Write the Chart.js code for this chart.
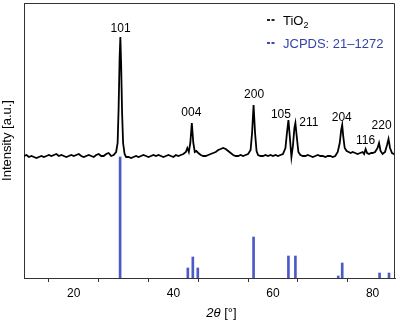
<!DOCTYPE html>
<html><head><meta charset="utf-8">
<script src="https://cdn.jsdelivr.net/npm/chart.js@4/dist/chart.umd.min.js"></script>
<style>html,body{margin:0;padding:0;background:#fff}#wrap{width:399px;height:324px}</style>
</head><body><div id="wrap"><canvas id="c" width="399" height="324"></canvas></div>
<script>
// XRD pattern (2θ in degrees, intensity in arbitrary units)
const xrdTheta = [10,10.5,11,11.5,12,12.5,13,13.5,14,14.5,15,15.5,16,16.5,17,17.5,18,18.5,19,19.5,20,20.5,21,21.5,22,22.5,23,23.5,24,24.5,25,25.5,26,26.5,27,27.5,28,28.5,28.8,29,29.2,29.35,29.5,29.7,29.9,30.2,30.5,31,31.5,32,32.5,33,33.5,34,34.5,35,35.5,36,36.5,37,37.5,38,38.5,39,39.5,40,40.5,41,41.5,42,42.5,42.8,43.1,43.4,43.7,44,44.3,44.6,45,45.5,46,46.5,47,47.5,48,48.5,49,49.5,50,50.5,51,51.5,52,52.5,53,53.5,54,54.5,55,55.5,55.8,56.1,56.4,56.7,57,57.5,58,58.5,59,59.5,60,60.5,61,61.5,62,62.5,62.8,63.1,63.4,63.7,64,64.3,64.5,64.8,65.1,65.5,66,66.5,67,67.5,68,68.5,69,69.5,70,70.5,71,71.5,72,72.5,73,73.4,73.7,73.9,74.1,74.4,74.8,75.2,75.6,76,76.5,77,77.5,78,78.3,78.6,78.9,79.3,79.7,80,80.5,81,81.3,81.6,82,82.5,82.9,83.2,83.5,83.9,84.3,84.5];
const xrdIntensity = [122,123,121,122,121,120,121,122,121,122,123,122,123,124,122,123,122,121,122,123,122,123,124,122,121,122,123,122,121,123,124,122,122,124,125,122,123,126,135,170,220,241,215,165,135,124,121,121,120,121,122,121,122,123,122,121,122,123,122,123,122,121,122,123,122,121,123,122,123,124,126,130,126,135,155,135,126,127,125,123,122,122,123,124,125,126,128,129,130,129,127,125,123,122,122,123,122,123,124,128,145,173,145,127,123,122,122,123,122,123,122,123,122,123,124,130,145,158,140,121,132,150,155,140,126,123,122,122,123,122,121,122,123,122,122,121,122,122,121,122,126,135,148,153,142,130,127,126,125,126,125,124,125,126,124,129,125,124,125,125,126,130,135,127,124,126,133,139,130,125,124,124];

// JCPDS 21-1272 reference lines
const refTheta = [29.3,42.9,43.9,44.9,56.1,63.1,64.5,73.1,73.9,81.4,83.3];
const refIntensity = [121,10,21,10,41,22,22,2,15,5,5];

// Peak (hkl) labels and their anchor in data units
const peakLabels = ['101','004','200','105','211','204','116','220'];
const peakLabelTheta = [29.4,43.6,56.2,61.6,67.2,73.8,78.6,81.8];
const peakLabelIntensity = [249,165,183,163,155,160,137,152];

// Axis ticks
const xTicks = [20,40,60,80];
const seriesNames = ['TiO', 'JCPDS: 21\u20131272'];

const FONT = "'Liberation Sans', Arial, Helvetica, sans-serif";
Chart.defaults.font.family = FONT;
Chart.defaults.font.size = 12;
Chart.defaults.color = '#000';

const overlay = {
  id: 'overlay',
  afterDraw(chart) {
    const {ctx, chartArea: a, scales: {x, y}} = chart;
    ctx.save();
    // top & right frame
    ctx.strokeStyle = '#333'; ctx.lineWidth = 1;
    ctx.beginPath();
    ctx.moveTo(a.left, a.top + 0.5); ctx.lineTo(a.right - 0.5, a.top + 0.5); ctx.lineTo(a.right - 0.5, a.bottom);
    ctx.stroke();
    // peak labels
    ctx.fillStyle = '#000';
    ctx.font = '12px ' + FONT;
    ctx.textAlign = 'center'; ctx.textBaseline = 'middle';
    peakLabels.forEach((t, i) => {
      ctx.fillText(t, x.getPixelForValue(peakLabelTheta[i]), y.getPixelForValue(peakLabelIntensity[i]));
    });
    // legend
    const lx = a.right - 128;
    const drawDash = (yy, col) => {
      ctx.strokeStyle = col; ctx.lineWidth = 2;
      ctx.beginPath();
      ctx.moveTo(lx, yy); ctx.lineTo(lx + 3, yy);
      ctx.moveTo(lx + 4.5, yy); ctx.lineTo(lx + 7.5, yy);
      ctx.stroke();
    };
    drawDash(20, '#222');
    drawDash(43, '#3b4ab0');
    ctx.textAlign = 'left'; ctx.textBaseline = 'middle';
    ctx.font = '13px ' + FONT;
    ctx.fillStyle = '#000';
    ctx.fillText(seriesNames[0], lx + 16, 21);
    const w0 = ctx.measureText(seriesNames[0]).width;
    ctx.font = '9px ' + FONT;
    ctx.fillText('2', lx + 16 + w0, 26);
    ctx.font = '13px ' + FONT;
    ctx.fillStyle = '#3443a8';
    ctx.fillText(seriesNames[1], lx + 16, 44);
    // x-axis title: italic "2θ" + " [°]"
    ctx.fillStyle = '#000';
    ctx.textBaseline = 'middle';
    const p1 = '2\u03b8', p2 = ' [\u00b0]';
    ctx.font = 'italic 13px ' + FONT;
    const w1 = ctx.measureText(p1).width;
    ctx.font = '13px ' + FONT;
    const w2 = ctx.measureText(p2).width;
    let sx = (a.left + a.right) / 2 + 12 - (w1 + w2) / 2;
    ctx.font = 'italic 13px ' + FONT;
    ctx.fillText(p1, sx, 313);
    ctx.font = '13px ' + FONT;
    ctx.fillText(p2, sx + w1, 313);
    ctx.restore();
  }
};

new Chart(document.getElementById('c'), {
  type: 'line',
  data: {
    datasets: [
      {
        type: 'bar',
        label: seriesNames[1],
        data: refTheta.map((t, i) => ({x: t, y: refIntensity[i]})),
        backgroundColor: '#4a5bc6',
        barThickness: 2,
        grouped: false,
        order: 2
      },
      {
        type: 'line',
        label: seriesNames[0],
        data: xrdTheta.map((t, i) => ({x: t, y: xrdIntensity[i]})),
        borderColor: '#000',
        borderWidth: 1.8,
        pointRadius: 0,
        tension: 0,
        fill: false,
        order: 1
      }
    ]
  },
  options: {
    responsive: false,
    animation: false,
    events: [],
    layout: {padding: {top: 3, right: 4, left: 0, bottom: 0}},
    plugins: {legend: {display: false}, tooltip: {enabled: false}},
    scales: {
      x: {
        type: 'linear',
        min: 10, max: 84.5,
        offset: false,
        afterFit(s) { s.height = 46; },
        afterBuildTicks(s) { s.ticks = [10,20,30,40,50,60,70,80].map(v => ({value: v})); },
        ticks: {
          autoSkip: false, maxRotation: 0, padding: 4,
          font: {size: 12},
          callback: v => xTicks.includes(v) ? String(v) : ''
        },
        grid: {drawOnChartArea: false, drawTicks: true, tickLength: 4, color: '#333'},
        border: {display: true, color: '#333', width: 1},
        title: {display: false}
      },
      y: {
        type: 'linear',
        min: 0, max: 275,
        afterFit(s) { s.width = 24; },
        ticks: {display: false},
        grid: {display: false},
        border: {display: true, color: '#333', width: 1},
        title: {display: true, text: 'Intensity [a.u.]', font: {size: 13}, padding: {top: 0, bottom: 0}, color: '#000'}
      }
    }
  },
  plugins: [overlay]
});
</script>
</body></html>
